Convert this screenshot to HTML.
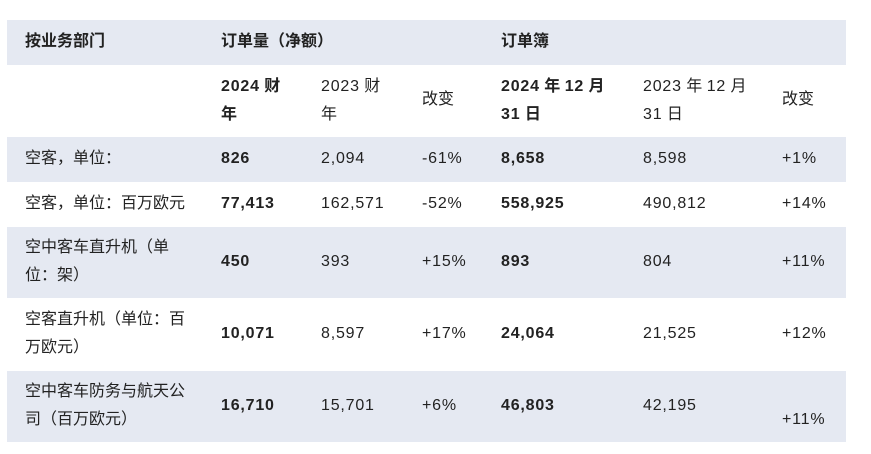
<!DOCTYPE html><html><head><meta charset="utf-8"><style>
body{margin:0;width:871px;height:454px;background:#fff;font-family:"Liberation Sans","Noto Sans CJK SC",sans-serif;color:#222;font-size:16px;position:relative;overflow:hidden}
.r{position:absolute;left:7px;width:839px}
.g{background:#e5e9f2}
.t{position:absolute;line-height:28px;white-space:nowrap}
.n{letter-spacing:0.8px}
b{font-weight:bold}
</style></head><body>
<div class="r g" style="top:20px;height:45px"></div>
<div class="r g" style="top:137px;height:45px"></div>
<div class="r g" style="top:227px;height:71px"></div>
<div class="r g" style="top:371px;height:71px"></div>

<div class="t" style="left:25px;top:28px"><b>按业务部门</b></div>
<div class="t" style="left:221px;top:28px"><b>订单量（净额）</b></div>
<div class="t" style="left:501px;top:28px"><b>订单簿</b></div>

<div class="t" style="left:221px;top:73px"><b><span class="n">2024</span> 财</b><br><b>年</b></div>
<div class="t" style="left:321px;top:73px"><span class="n">2023</span> 财<br>年</div>
<div class="t" style="left:422px;top:86px">改变</div>
<div class="t" style="left:501px;top:73px"><b><span class="n">2024</span> 年 <span class="n">12</span> 月</b><br><b><span class="n">31</span> 日</b></div>
<div class="t" style="left:643px;top:73px"><span class="n">2023</span> 年 <span class="n">12</span> 月<br><span class="n">31</span> 日</div>
<div class="t" style="left:782px;top:86px">改变</div>

<div class="t" style="left:25px;top:145px">空客，单位：</div>
<div class="t n" style="left:221px;top:145px"><b>826</b></div>
<div class="t n" style="left:321px;top:145px">2,094</div>
<div class="t n" style="left:422px;top:145px">-61%</div>
<div class="t n" style="left:501px;top:145px"><b>8,658</b></div>
<div class="t n" style="left:643px;top:145px">8,598</div>
<div class="t n" style="left:782px;top:145px">+1%</div>

<div class="t" style="left:25px;top:190px">空客，单位：百万欧元</div>
<div class="t n" style="left:221px;top:190px"><b>77,413</b></div>
<div class="t n" style="left:321px;top:190px">162,571</div>
<div class="t n" style="left:422px;top:190px">-52%</div>
<div class="t n" style="left:501px;top:190px"><b>558,925</b></div>
<div class="t n" style="left:643px;top:190px">490,812</div>
<div class="t n" style="left:782px;top:190px">+14%</div>

<div class="t" style="left:25px;top:234px">空中客车直升机（单<br>位：架）</div>
<div class="t n" style="left:221px;top:248px"><b>450</b></div>
<div class="t n" style="left:321px;top:248px">393</div>
<div class="t n" style="left:422px;top:248px">+15%</div>
<div class="t n" style="left:501px;top:248px"><b>893</b></div>
<div class="t n" style="left:643px;top:248px">804</div>
<div class="t n" style="left:782px;top:248px">+11%</div>

<div class="t" style="left:25px;top:306px">空客直升机（单位：百<br>万欧元）</div>
<div class="t n" style="left:221px;top:320px"><b>10,071</b></div>
<div class="t n" style="left:321px;top:320px">8,597</div>
<div class="t n" style="left:422px;top:320px">+17%</div>
<div class="t n" style="left:501px;top:320px"><b>24,064</b></div>
<div class="t n" style="left:643px;top:320px">21,525</div>
<div class="t n" style="left:782px;top:320px">+12%</div>

<div class="t" style="left:25px;top:378px">空中客车防务与航天公<br>司（百万欧元）</div>
<div class="t n" style="left:221px;top:392px"><b>16,710</b></div>
<div class="t n" style="left:321px;top:392px">15,701</div>
<div class="t n" style="left:422px;top:392px">+6%</div>
<div class="t n" style="left:501px;top:392px"><b>46,803</b></div>
<div class="t n" style="left:643px;top:392px">42,195</div>
<div class="t n" style="left:782px;top:406px">+11%</div>
</body></html>
